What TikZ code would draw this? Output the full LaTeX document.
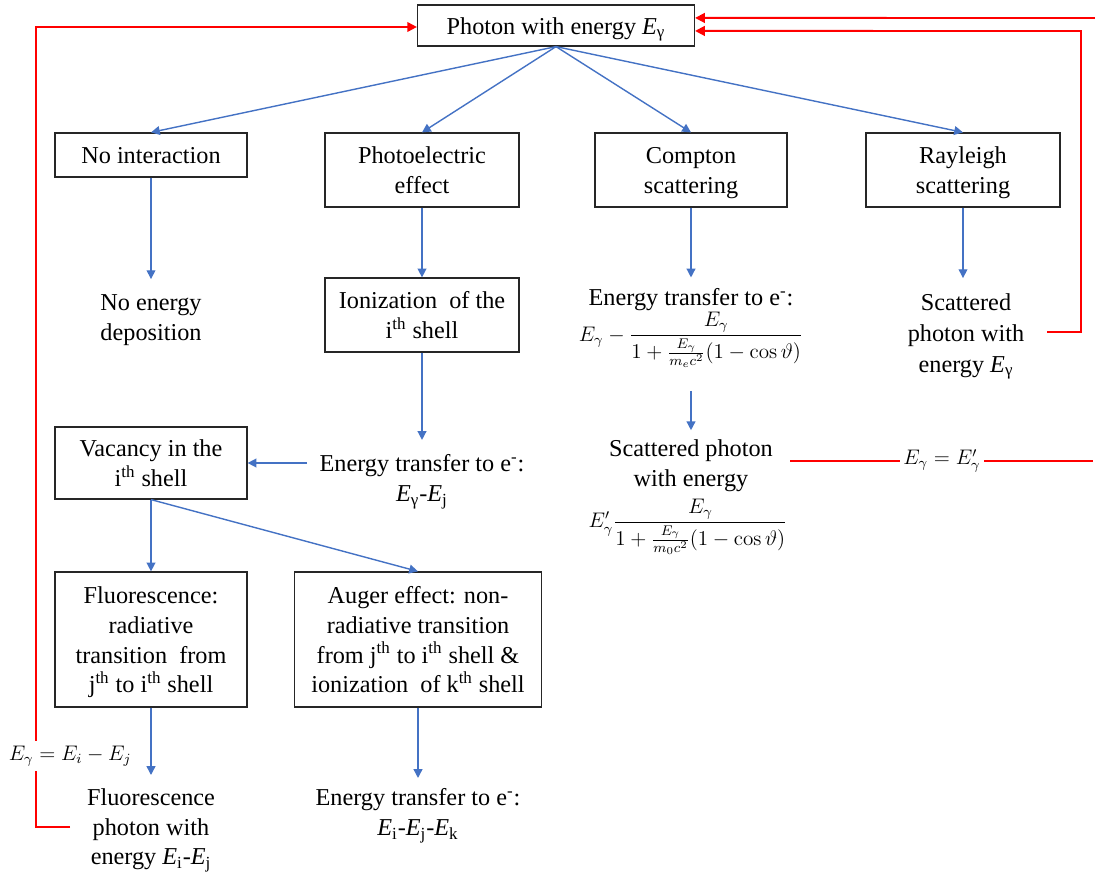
\documentclass[tikz,border=0pt]{standalone}
\usepackage{amsmath}
\usepackage[no-math]{fontspec}
\setmainfont{Liberation Serif}
\usetikzlibrary{arrows.meta}
\definecolor{bl}{RGB}{68,114,196}
\definecolor{rd}{RGB}{255,0,0}
\newcommand\mytxt{\fontsize{13.8}{17}\selectfont}
\newcommand\mymath{\fontsize{12}{14}\selectfont}
\newcommand\boxtext[1]{\raisebox{-5.1pt}[0pt][0pt]{\begin{tabular}{@{}c@{}}#1\end{tabular}}}
\tikzset{
  box/.style={draw=black!85, line width=0.7pt, rectangle, font=\mytxt, inner sep=0pt},
  lbl/.style={align=center, font=\mytxt, inner sep=0pt},
  mth/.style={font=\mymath, inner sep=0pt},
  barrow/.style={draw=bl, line width=0.8pt, -{Triangle[length=5pt,width=5pt]}},
  rarrow/.style={draw=rd, line width=1.1pt, -{Triangle[length=5.5pt,width=5.5pt]}},
  rline/.style={color=rd, line width=0.9pt},
}
\begin{document}
\begin{tikzpicture}[x=0.02cm,y=-0.02cm]
\useasboundingbox (0,0) rectangle (1095,878);
% boxes
\node[box, minimum width=5.54cm, minimum height=0.82cm] (top) at (556,25.5) {\boxtext{Photon with energy \textit{E}\textsubscript{γ}}};
\node[box, minimum width=3.84cm, minimum height=0.88cm] (noint) at (151,155) {\boxtext{No interaction}};
\node[box, minimum width=3.88cm, minimum height=1.48cm] (pe) at (422,170) {\boxtext{Photoelectric\\effect}};
\node[box, minimum width=3.84cm, minimum height=1.48cm] (comp) at (691,170) {\boxtext{Compton\\scattering}};
\node[box, minimum width=3.88cm, minimum height=1.48cm] (ray) at (963,170) {\boxtext{Rayleigh\\scattering}};
\node[box, minimum width=3.88cm, minimum height=1.48cm] (ion) at (422,315) {\boxtext{Ionization~ of the\\i\textsuperscript{th} shell}};
\node[box, minimum width=3.84cm, minimum height=1.44cm] (vac) at (151,463) {\boxtext{Vacancy in the\\i\textsuperscript{th} shell}};
\node[box, minimum width=3.84cm, minimum height=2.7cm] (flu) at (151,639.5) {\boxtext{Fluorescence:\\radiative\\transition~ from\\j\textsuperscript{th} to i\textsuperscript{th} shell}};
\node[box, minimum width=4.94cm, minimum height=2.7cm] (aug) at (418,639.5) {\boxtext{Auger effect: non-\\radiative transition\\from j\textsuperscript{th} to i\textsuperscript{th} shell \&\\ionization~ of k\textsuperscript{th} shell}};
% text nodes
\node[lbl, anchor=north] (noen) at (151,294) {No energy\\deposition};
\node[lbl, anchor=north] (etrans) at (422,454) {Energy transfer to e\textsuperscript{-}:\\\textit{E}\textsubscript{γ}-\textit{E}\textsubscript{j}};
\node[lbl, anchor=north] (fluph) at (151,788) {Fluorescence\\photon with\\energy \textit{E}\textsubscript{i}-\textit{E}\textsubscript{j}};
\node[lbl, anchor=north] (augen) at (418,788) {Energy transfer to e\textsuperscript{-}:\\\textit{E}\textsubscript{i}-\textit{E}\textsubscript{j}-\textit{E}\textsubscript{k}};
\node[lbl, anchor=north] (ctrans) at (691,288) {Energy transfer to e\textsuperscript{-}:};
\node[mth] (cform) at (691,340) {$\displaystyle E_\gamma-\frac{E_\gamma}{1+\frac{E_\gamma}{m_ec^2}(1-\cos\vartheta)}$};
\node[lbl, anchor=north] (cscat) at (691,439) {Scattered photon\\with energy};
\node[mth] (cscatf) at (688,527) {$\displaystyle E'_\gamma\frac{E_\gamma}{1+\frac{E_\gamma}{m_0c^2}(1-\cos\vartheta)}$};
\node[lbl, anchor=north, font=\fontsize{13.8}{17.6}\selectfont] (rscat) at (966,293) {Scattered\\photon with\\energy \textit{E}\textsubscript{γ}};
% blue arrows
\draw[barrow] (top.south) -- (noint.north);
\draw[barrow] (top.south) -- (pe.north);
\draw[barrow] (top.south) -- (comp.north);
\draw[barrow] (top.south) -- (ray.north);
\draw[barrow, shorten >=8.5pt] (noint.south) -- (noen.north);
\draw[barrow] (pe.south) -- (ion.north);
\draw[barrow, shorten >=8pt] (ion.south) -- (etrans.north);
\draw[barrow, shorten <=7pt] (etrans.west |- vac.east) -- (vac.east);
\draw[barrow] (vac.south) -- (flu.north);
\draw[barrow] (vac.south) -- (aug.north);
\draw[barrow, shorten >=7.4pt] (flu.south) -- (fluph.north);
\draw[barrow, shorten >=5.7pt] (aug.south) -- (aug.south |- augen.north);
\draw[barrow, shorten >=6pt] (comp.south) -- (ctrans.north);
\draw[barrow, shorten <=13pt, shorten >=5pt] (cform.south) -- (cscat.north);
\draw[barrow, shorten >=8.5pt] (ray.south) -- (ray.south |- rscat.north);
% red connectors
\coordinate (rin) at (1095,18);
\draw[rarrow] (rin) -- ([yshift=4.3pt]top.east);
\coordinate (r0) at (1047,332);
\coordinate (rc) at (1081,31);
\draw[rarrow] (r0) -| (rc) -- ([yshift=-3.1pt]top.east);
\coordinate (l0) at (70,827);
\coordinate (lc) at (36,27);
\draw[rarrow] (l0) -| (lc) -- (lc -| top.west);
\node[mth, fill=white, inner xsep=1pt, inner ysep=3pt] (lbl1) at (70,756) {$E_\gamma=E_i-E_j$};
\coordinate (m0) at (790,461);
\coordinate (rend) at (1093,461);
\node[mth, inner xsep=2pt] (eqlbl) at (942,461) {$E_\gamma=E'_\gamma$};
\draw[rline] (m0) -- (eqlbl.west);
\draw[rline] (eqlbl.east) -- (rend);
\end{tikzpicture}
\end{document}
